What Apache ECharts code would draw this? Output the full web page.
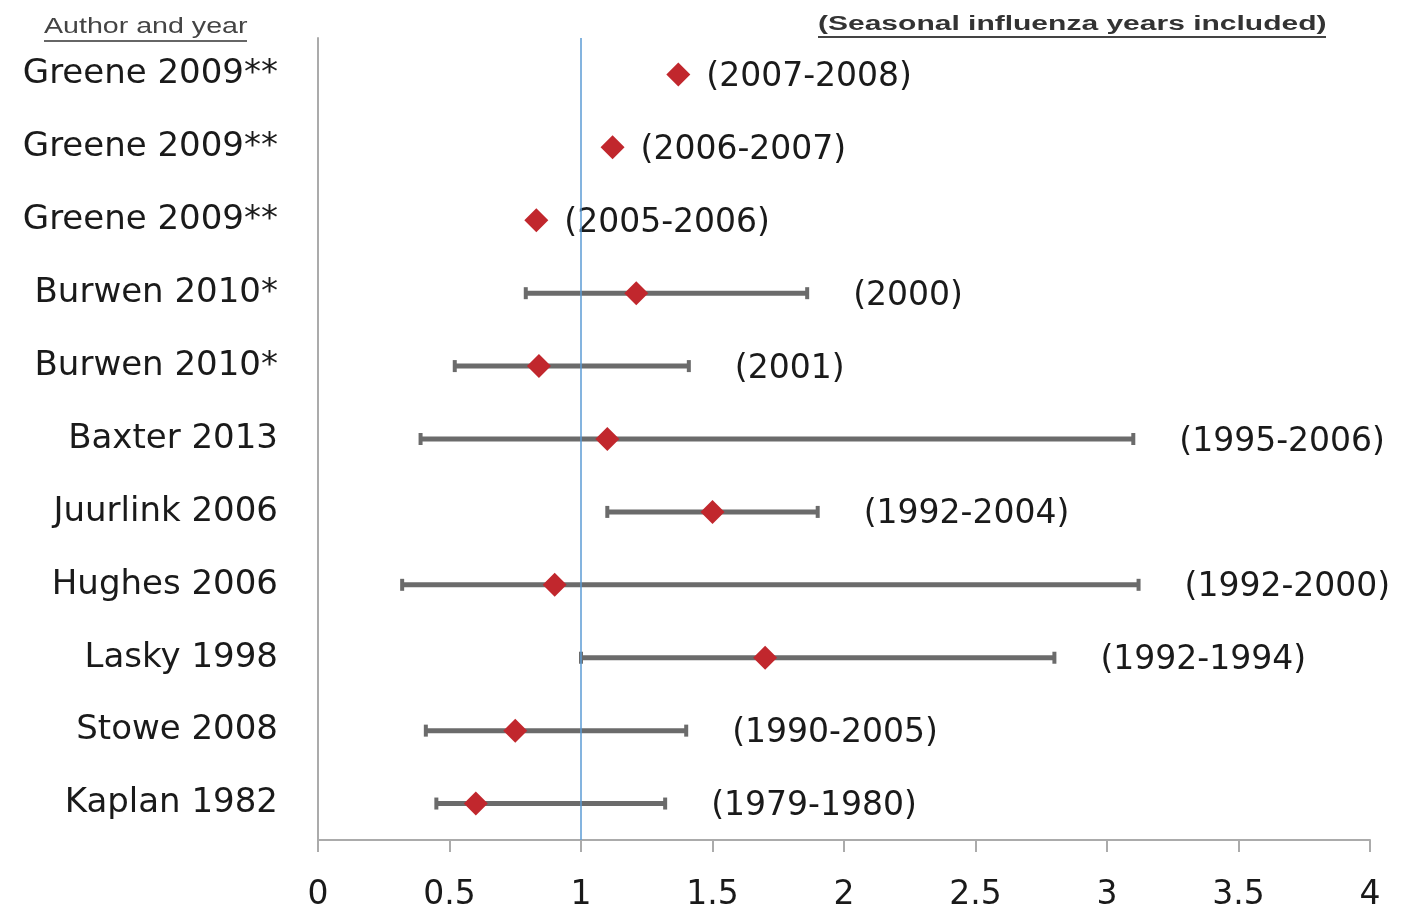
<!DOCTYPE html>
<html>
<head>
<meta charset="utf-8">
<script src="https://cdn.jsdelivr.net/npm/echarts@6/dist/echarts.min.js"></script>
<style>
html,body{margin:0;padding:0;background:#fff;}
#chart{width:1412px;height:912px;}
</style>
</head>
<body>
<div id="chart"></div>
<script>
const studies = ['Greene 2009**','Greene 2009**','Greene 2009**','Burwen 2010*','Burwen 2010*','Baxter 2013','Juurlink 2006','Hughes 2006','Lasky 1998','Stowe 2008','Kaplan 1982'];
const years = ['(2007-2008)','(2006-2007)','(2005-2006)','(2000)','(2001)','(1995-2006)','(1992-2004)','(1992-2000)','(1992-1994)','(1990-2005)','(1979-1980)'];
const estimates = [1.37,1.12,0.83,1.21,0.84,1.10,1.50,0.90,1.70,0.75,0.60];
const lower = [null,null,null,0.79,0.52,0.39,1.10,0.32,1.00,0.41,0.45];
const upper = [null,null,null,1.86,1.41,3.10,1.90,3.12,2.80,1.40,1.32];
const xTicks = ['0','0.5','1','1.5','2','2.5','3','3.5','4'];

const FONT = '"DejaVu Sans", Verdana, sans-serif';

const ciData = [];
studies.forEach((s,i)=>{ if(lower[i]!=null) ciData.push([i, lower[i], upper[i]]); });
const pointData = studies.map((s,i)=>[estimates[i], i]);
const labelData = studies.map((s,i)=>[i, upper[i]!=null ? upper[i] : estimates[i], upper[i]!=null ? 1 : 0]);

const chart = echarts.init(document.getElementById('chart'), null, {renderer:'canvas'});
const option = {
  animation:false,
  backgroundColor:'#fff',
  grid:{left:318, right:42, top:38, bottom:72, containLabel:false},
  xAxis:{
    type:'value', min:0, max:4, interval:0.5,
    axisLine:{show:true, lineStyle:{color:'#ababab', width:2}},
    axisTick:{show:true, length:12, lineStyle:{color:'#ababab', width:2}},
    splitLine:{show:false},
    axisLabel:{fontFamily:FONT, fontSize:33, color:'#1a1a1a', margin:39,
      formatter:(v)=>{ const idx=Math.round(v*2); return xTicks[idx]!==undefined?xTicks[idx]:''; }}
  },
  yAxis:{
    type:'category', data:studies, inverse:true,
    axisLine:{show:true, lineStyle:{color:'#ababab', width:2}},
    axisTick:{show:false},
    splitLine:{show:false},
    axisLabel:{fontFamily:FONT, fontSize:34, color:'#1a1a1a', margin:40}
  },
  graphic:[
    {type:'text', x:44, y:27, style:{text:'Author and year', font:'22px "Liberation Sans", Arial, sans-serif', fill:'#444', verticalAlign:'middle', align:'left'}, scaleX:1.3},
    {type:'line', shape:{x1:44,y1:41,x2:247,y2:41}, style:{stroke:'#666', lineWidth:2}},
    {type:'text', x:818, y:24, style:{text:'(Seasonal influenza years included)', font:'bold 20px "Liberation Sans", Arial, sans-serif', fill:'#333', verticalAlign:'middle', align:'left'}, scaleX:1.5},
    {type:'line', shape:{x1:818,y1:37,x2:1326,y2:37}, style:{stroke:'#444', lineWidth:2}}
  ],
  series:[
    {
      type:'custom', name:'CI', data:ciData, z:2,
      encode:{x:[1,2], y:0},
      renderItem:(params, api)=>{
        const y = api.value(0), lo = api.value(1), hi = api.value(2);
        const p1 = api.coord([lo, y]), p2 = api.coord([hi, y]);
        const st = {stroke:'#6b6b6b', lineWidth:5};
        const cap = 6;
        return {type:'group', children:[
          {type:'line', shape:{x1:p1[0],y1:p1[1],x2:p2[0],y2:p2[1]}, style:st},
          {type:'line', shape:{x1:p1[0],y1:p1[1]-cap,x2:p1[0],y2:p1[1]+cap}, style:{stroke:'#6b6b6b', lineWidth:4}},
          {type:'line', shape:{x1:p2[0],y1:p2[1]-cap,x2:p2[0],y2:p2[1]+cap}, style:{stroke:'#6b6b6b', lineWidth:4}}
        ]};
      }
    },
    {
      type:'scatter', name:'Estimate', data:pointData, z:3,
      symbol:'diamond', symbolSize:[24,24],
      itemStyle:{color:'#c1272d', opacity:1},
      markLine:{silent:true, symbol:'none', label:{show:false},
        lineStyle:{color:'#5b9bd5', width:1.5, type:'solid'},
        data:[{xAxis:1}]}
    },
    {
      type:'custom', name:'Years', data:labelData, z:4,
      encode:{x:1, y:0},
      renderItem:(params, api)=>{
        const y = api.value(0), a = api.value(1), hasCI = api.value(2);
        const p = api.coord([a, y]);
        return {type:'text', x:p[0] + (hasCI ? 46 : 28), y:p[1]+3,
          style:{text:years[params.dataIndex], font:'33px ' + FONT, fill:'#1a1a1a', verticalAlign:'middle', align:'left'}};
      }
    }
  ]
};
chart.setOption(option);
</script>
</body>
</html>
